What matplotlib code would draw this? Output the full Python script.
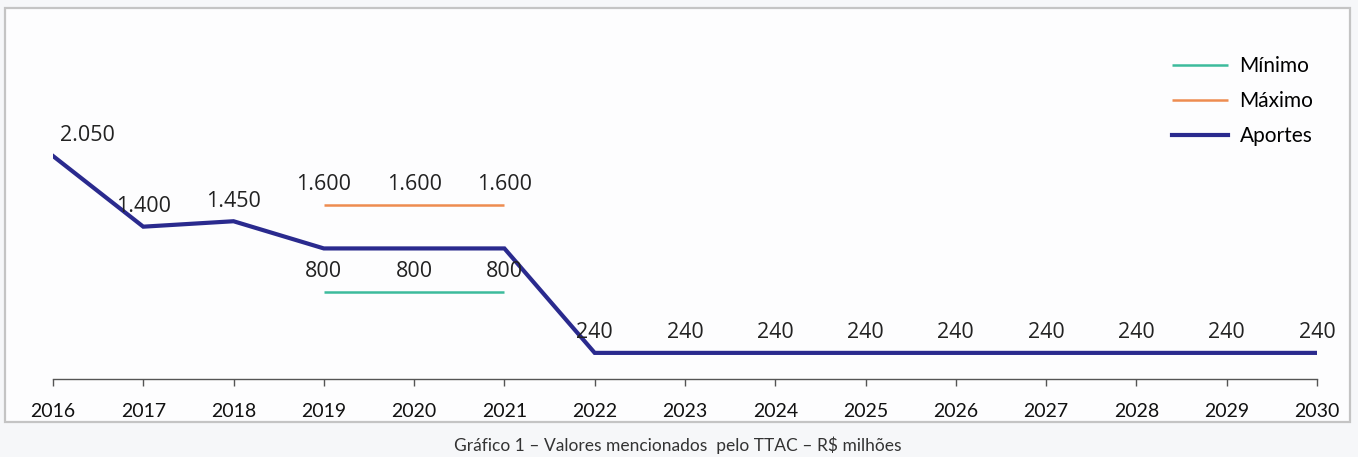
import matplotlib.pyplot as plt
from matplotlib.patches import Rectangle

# Valores do TTAC (R$ milhões)
anos = list(range(2016, 2031))
aportes = [2050, 1400, 1450, 1200, 1200, 1200, 240, 240, 240, 240, 240, 240, 240, 240, 240]
anos_faixa = [2019, 2020, 2021]
minimo = [800, 800, 800]
maximo = [1600, 1600, 1600]

# anos de Aportes que recebem rótulo
rotulados = [2016, 2017, 2018] + list(range(2022, 2031))


def fmt(v):
    return f"{v:,}".replace(",", ".")


plt.rcParams['font.family'] = ['Lato', 'DejaVu Sans']

fig = plt.figure(figsize=(13.58, 4.57), dpi=100, facecolor='#f6f7f9')

# moldura do gráfico
moldura = Rectangle((0.0037, 0.0766), 0.9904, 0.906, transform=fig.transFigure,
                    facecolor='#fdfdfe', edgecolor='#c4c4c4', linewidth=1.6, zorder=-10)
fig.patches.append(moldura)

ax = fig.add_axes([0.039, 0.1707, 0.9308, 0.7856])
ax.set_facecolor('none')
ax.set_zorder(1)

cor_min = '#3dbb9c'
cor_max = '#ee8c50'
cor_ap = '#2a2a8e'

ax.plot(anos_faixa, minimo, color=cor_min, lw=1.8, label='Mínimo', solid_capstyle='butt')
ax.plot(anos_faixa, maximo, color=cor_max, lw=1.8, label='Máximo', solid_capstyle='butt')
ax.plot(anos, aportes, color=cor_ap, lw=3, label='Aportes', solid_joinstyle='miter')

lbl = dict(fontsize=15.5, color='#222222', ha='center', va='bottom',
           family=['Open Sans', 'DejaVu Sans'], textcoords='offset points')
for a, v in zip(anos, aportes):
    if a in rotulados:
        # o primeiro rótulo fica deslocado para dentro do gráfico
        dx = 25 if a == 2016 else 0
        ax.annotate(fmt(v), (a, v), xytext=(dx, 7), **lbl)
for a, v in zip(anos_faixa, maximo):
    ax.annotate(fmt(v), (a, v), xytext=(0, 7), **lbl)
for a, v in zip(anos_faixa, minimo):
    ax.annotate(fmt(v), (a, v), xytext=(0, 7), **lbl)

ax.set_xlim(2016, 2030)
ax.set_ylim(0, 3300)
ax.set_xticks(anos)
ax.tick_params(axis='x', direction='out', length=5, width=1, color='#555555',
               labelsize=14, pad=12, labelcolor='#111111')
ax.set_yticks([])
for s in ['top', 'left', 'right']:
    ax.spines[s].set_visible(False)
ax.spines['bottom'].set_color('#555555')
ax.spines['bottom'].set_linewidth(1)

leg = ax.legend(loc='upper right', bbox_to_anchor=(1.012, 0.952), frameon=False,
                fontsize=15, handlelength=2.7, handletextpad=0.55, labelspacing=0.72)

fig.text(0.499, 0.006, 'Gráfico 1 – Valores mencionados  pelo TTAC – R$ milhões',
         ha='center', va='bottom', fontsize=12.5, color='#333333')

fig.savefig('out.png', dpi=100, facecolor=fig.get_facecolor())
